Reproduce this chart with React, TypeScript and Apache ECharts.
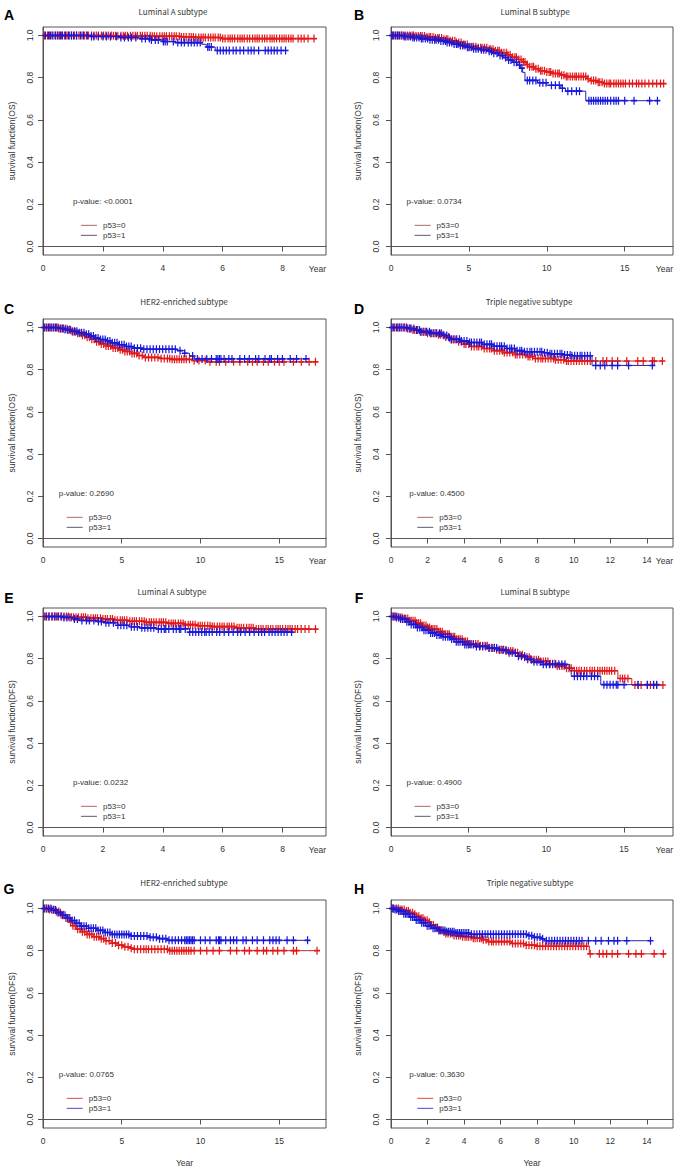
import React, { useEffect, useRef } from "react";
import * as echarts from "echarts";

type Step = [number, number];

// ---------- texts ----------
const PANEL_LETTERS = ["A", "B", "C", "D", "E", "F", "G", "H"];
const PANEL_TITLES = [
  "Luminal A subtype", "Luminal B subtype", "HER2-enriched subtype", "Triple negative subtype",
  "Luminal A subtype", "Luminal B subtype", "HER2-enriched subtype", "Triple negative subtype",
];
const Y_AXIS_NAMES = [
  "survival function(OS)", "survival function(OS)", "survival function(OS)", "survival function(OS)",
  "survival function(DFS)", "survival function(DFS)", "survival function(DFS)", "survival function(DFS)",
];
const P_VALUES = ["<0.0001", "0.0734", "0.2690", "0.4500", "0.0232", "0.4900", "0.0765", "0.3630"];
const GROUPS = ["p53=0", "p53=1"];
const X_NAME = "Year";

// ---------- ticks ----------
const Y_TICKS = [0, 0.2, 0.4, 0.6, 0.8, 1.0];
const X_TICKS = [
  [0, 2, 4, 6, 8], [0, 5, 10, 15], [0, 5, 10, 15], [0, 2, 4, 6, 8, 10, 12, 14],
  [0, 2, 4, 6, 8], [0, 5, 10, 15], [0, 5, 10, 15], [0, 2, 4, 6, 8, 10, 12, 14],
];
const X_MAX = [9.45, 18.1, 17.97, 15.43, 9.45, 18.15, 17.97, 15.43];

// ---------- Kaplan-Meier steps [time, survival] ----------
const A_P53_0_STEPS: Step[] = [[0, 1], [2.3, 0.998], [3.6, 0.996], [4.6, 0.993], [5.1, 0.99], [6.0, 0.985]];
const A_P53_1_STEPS: Step[] = [[0, 1], [1.6, 0.995], [2.6, 0.99], [3.2, 0.985], [3.6, 0.979], [4.0, 0.971], [4.4, 0.966], [5.3, 0.958], [5.45, 0.945], [5.75, 0.929]];
const B_P53_0_STEPS: Step[] = [[0, 1], [1.5, 0.997], [2.2, 0.993], [2.8, 0.988], [3.3, 0.982], [3.8, 0.975], [4.2, 0.967], [4.6, 0.957], [5.0, 0.947], [5.6, 0.942], [6.2, 0.935], [6.7, 0.928], [7.1, 0.918], [7.5, 0.908], [7.8, 0.897], [8.1, 0.886], [8.4, 0.874], [8.7, 0.862], [8.9, 0.852], [9.2, 0.842], [9.5, 0.833], [9.9, 0.827], [10.4, 0.82], [10.9, 0.812], [11.2, 0.805], [12.6, 0.795], [12.8, 0.786], [13.3, 0.778], [13.7, 0.772]];
const B_P53_1_STEPS: Step[] = [[0, 1], [0.8, 0.995], [1.3, 0.99], [1.9, 0.985], [2.5, 0.98], [3.1, 0.974], [3.6, 0.967], [4.0, 0.96], [4.4, 0.952], [4.8, 0.944], [5.2, 0.937], [5.7, 0.932], [6.2, 0.925], [6.5, 0.916], [6.9, 0.905], [7.2, 0.895], [7.5, 0.884], [7.8, 0.873], [8.1, 0.86], [8.3, 0.845], [8.45, 0.825], [8.6, 0.787], [9.4, 0.776], [10.0, 0.764], [10.9, 0.75], [11.2, 0.736], [12.5, 0.691]];
const C_P53_0_STEPS: Step[] = [[0, 1], [1.0, 0.995], [1.5, 0.988], [1.8, 0.98], [2.1, 0.972], [2.4, 0.963], [2.7, 0.954], [3.0, 0.944], [3.3, 0.932], [3.6, 0.922], [4.0, 0.912], [4.4, 0.903], [4.8, 0.894], [5.2, 0.886], [5.6, 0.877], [6.0, 0.867], [6.4, 0.858], [7.5, 0.853], [8.2, 0.849], [9.5, 0.843], [10.5, 0.837]];
const C_P53_1_STEPS: Step[] = [[0, 1], [1.0, 0.995], [1.4, 0.99], [1.8, 0.982], [2.3, 0.975], [2.7, 0.968], [3.0, 0.96], [3.3, 0.95], [3.6, 0.943], [4.0, 0.936], [4.4, 0.927], [4.8, 0.918], [5.2, 0.91], [5.7, 0.902], [6.3, 0.897], [8.5, 0.89], [9.0, 0.878], [9.3, 0.865], [9.6, 0.851]];
const D_P53_0_STEPS: Step[] = [[0, 1], [0.9, 0.995], [1.2, 0.988], [1.6, 0.98], [2.0, 0.973], [2.5, 0.965], [2.9, 0.955], [3.2, 0.943], [3.6, 0.932], [4.0, 0.921], [4.3, 0.91], [5.0, 0.9], [5.6, 0.89], [6.2, 0.881], [6.8, 0.872], [7.4, 0.862], [7.9, 0.853], [9.0, 0.847], [9.5, 0.841]];
const D_P53_1_STEPS: Step[] = [[0, 1], [1.0, 0.995], [1.3, 0.988], [1.6, 0.98], [2.2, 0.972], [2.8, 0.962], [3.1, 0.951], [3.3, 0.944], [3.8, 0.936], [4.3, 0.929], [5.0, 0.92], [5.6, 0.911], [6.3, 0.9], [6.8, 0.89], [7.3, 0.885], [8.3, 0.88], [8.7, 0.875], [9.4, 0.87], [9.9, 0.866], [11.0, 0.82]];
const E_P53_0_STEPS: Step[] = [[0, 1], [0.9, 0.996], [1.5, 0.992], [2.0, 0.988], [2.4, 0.982], [2.9, 0.977], [3.4, 0.972], [4.2, 0.967], [4.7, 0.961], [5.1, 0.956], [5.6, 0.952], [6.4, 0.946], [7.1, 0.94]];
const E_P53_1_STEPS: Step[] = [[0, 1], [0.7, 0.995], [1.0, 0.988], [1.3, 0.981], [1.8, 0.976], [2.1, 0.97], [2.5, 0.958], [2.9, 0.951], [3.2, 0.946], [3.8, 0.941], [4.9, 0.926]];
const F_P53_0_STEPS: Step[] = [[0, 1], [0.4, 0.995], [0.8, 0.99], [1.2, 0.98], [1.6, 0.968], [2.0, 0.957], [2.3, 0.948], [2.6, 0.94], [3.0, 0.928], [3.4, 0.916], [3.8, 0.904], [4.2, 0.892], [4.6, 0.881], [5.0, 0.87], [5.7, 0.861], [6.3, 0.852], [6.8, 0.844], [7.3, 0.836], [7.9, 0.828], [8.3, 0.818], [8.6, 0.807], [9.0, 0.795], [9.6, 0.787], [10.2, 0.776], [10.7, 0.765], [11.2, 0.755], [11.7, 0.743], [14.6, 0.706], [15.5, 0.675]];
const F_P53_1_STEPS: Step[] = [[0, 1], [0.3, 0.995], [0.6, 0.988], [1.0, 0.975], [1.3, 0.962], [1.7, 0.948], [2.1, 0.935], [2.5, 0.922], [2.9, 0.912], [3.3, 0.904], [3.8, 0.893], [4.2, 0.88], [4.7, 0.867], [5.4, 0.858], [6.2, 0.85], [7.0, 0.841], [7.6, 0.828], [8.2, 0.812], [8.7, 0.797], [9.2, 0.785], [9.8, 0.773], [11.5, 0.743], [11.6, 0.717], [13.5, 0.677]];
const G_P53_0_STEPS: Step[] = [[0, 1], [0.4, 0.995], [0.8, 0.985], [1.1, 0.97], [1.4, 0.955], [1.7, 0.935], [1.9, 0.918], [2.1, 0.902], [2.4, 0.89], [2.8, 0.877], [3.2, 0.866], [3.6, 0.857], [4.0, 0.847], [4.4, 0.836], [4.8, 0.826], [5.2, 0.818], [5.5, 0.812], [5.8, 0.807], [8.0, 0.8]];
const G_P53_1_STEPS: Step[] = [[0, 1], [0.6, 0.993], [0.9, 0.98], [1.2, 0.968], [1.5, 0.955], [1.8, 0.943], [2.1, 0.93], [2.4, 0.916], [2.9, 0.906], [3.4, 0.896], [3.9, 0.886], [4.4, 0.877], [5.6, 0.87], [6.8, 0.863], [7.4, 0.857], [7.9, 0.849]];
const H_P53_0_STEPS: Step[] = [[0, 1], [0.5, 0.995], [0.8, 0.988], [1.0, 0.98], [1.2, 0.972], [1.4, 0.963], [1.6, 0.953], [1.8, 0.944], [2.0, 0.935], [2.2, 0.922], [2.4, 0.91], [2.6, 0.898], [2.8, 0.888], [3.0, 0.881], [3.4, 0.872], [3.9, 0.866], [4.5, 0.859], [5.0, 0.852], [5.3, 0.843], [6.6, 0.834], [7.4, 0.826], [8.0, 0.821], [10.85, 0.785]];
const H_P53_1_STEPS: Step[] = [[0, 1], [0.2, 0.995], [0.4, 0.988], [0.7, 0.975], [1.0, 0.96], [1.3, 0.945], [1.6, 0.932], [1.9, 0.918], [2.2, 0.906], [2.6, 0.896], [3.0, 0.89], [3.5, 0.884], [4.3, 0.878], [7.5, 0.871], [7.8, 0.863], [8.2, 0.856], [8.4, 0.847]];

// ---------- censoring times ----------
const A_P53_0_CENSOR = [0.05, 0.15, 0.22, 0.3, 0.4, 0.48, 0.55, 0.62, 0.72, 0.8, 0.88, 0.95, 1.05, 1.12, 1.2, 1.3, 1.38, 1.45, 1.52, 1.62, 1.7, 1.78, 1.85, 1.95, 2.02, 2.1, 2.18, 2.28, 2.35, 2.42, 2.5, 2.6, 2.68, 2.75, 2.82, 2.92, 3.0, 3.08, 3.15, 3.25, 3.32, 3.4, 3.48, 3.58, 3.65, 3.72, 3.8, 3.9, 3.98, 4.05, 4.12, 4.22, 4.3, 4.38, 4.45, 4.55, 4.62, 4.7, 4.78, 4.88, 4.95, 5.02, 5.1, 5.2, 5.28, 5.35, 5.42, 5.52, 5.6, 5.68, 5.75, 5.85, 5.92, 6.0, 6.08, 6.18, 6.25, 6.32, 6.4, 6.5, 6.58, 6.65, 6.72, 6.82, 6.9, 7.0, 7.08, 7.15, 7.22, 7.32, 7.4, 7.48, 7.58, 7.65, 7.72, 7.8, 7.9, 7.98, 8.05, 8.12, 8.2, 8.28, 8.35, 8.52, 8.62, 8.72, 8.85, 9.05];
const A_P53_1_CENSOR = [0.08, 0.18, 0.25, 0.33, 0.42, 0.5, 0.58, 0.65, 0.75, 0.85, 0.95, 1.02, 1.12, 1.25, 1.35, 1.48, 1.62, 1.7, 1.85, 2.0, 2.12, 2.25, 2.45, 2.6, 2.72, 2.85, 2.95, 3.1, 3.3, 3.42, 3.55, 3.62, 3.75, 3.85, 4.02, 4.08, 4.15, 4.35, 4.5, 4.62, 4.72, 4.85, 4.95, 5.05, 5.15, 5.25, 5.5, 5.55, 5.62, 5.82, 5.92, 6.02, 6.12, 6.22, 6.35, 6.45, 6.58, 6.7, 6.85, 6.95, 7.05, 7.2, 7.42, 7.52, 7.62, 7.72, 7.82, 7.95, 8.1];
const B_P53_0_CENSOR = [0.1, 0.25, 0.4, 0.5, 0.65, 0.8, 0.9, 1.05, 1.2, 1.35, 1.45, 1.6, 1.75, 1.9, 2.0, 2.15, 2.3, 2.45, 2.55, 2.7, 2.85, 3.0, 3.1, 3.25, 3.4, 3.55, 3.65, 3.8, 3.95, 4.1, 4.2, 4.35, 4.5, 4.65, 4.75, 4.9, 5.05, 5.2, 5.3, 5.45, 5.6, 5.75, 5.85, 6.0, 6.15, 6.3, 6.4, 6.55, 6.7, 6.85, 6.95, 7.1, 7.25, 7.4, 7.5, 7.65, 7.8, 7.95, 8.05, 8.2, 8.35, 8.5, 8.6, 8.75, 8.9, 9.05, 9.15, 9.3, 9.45, 9.6, 9.7, 9.85, 10.0, 10.15, 10.25, 10.4, 10.55, 10.7, 10.8, 10.95, 11.1, 11.25, 11.35, 11.5, 11.65, 11.8, 11.9, 12.05, 12.2, 12.35, 12.5, 12.65, 12.85, 13.0, 13.15, 13.3, 13.4, 13.55, 13.7, 13.85, 14.0, 14.1, 14.3, 14.45, 14.6, 14.75, 14.9, 15.05, 15.3, 15.5, 15.75, 15.9, 16.1, 16.3, 16.55, 16.8, 17.05, 17.3, 17.5];
const B_P53_1_CENSOR = [0.05, 0.15, 0.3, 0.42, 0.55, 0.7, 0.85, 0.95, 1.1, 1.25, 1.4, 1.5, 1.65, 1.8, 1.95, 2.05, 2.2, 2.35, 2.5, 2.65, 2.8, 2.9, 3.05, 3.2, 3.35, 3.5, 3.6, 3.75, 3.9, 4.05, 4.2, 4.3, 4.45, 4.6, 4.75, 4.9, 5.0, 5.15, 5.3, 5.45, 5.6, 5.8, 5.95, 6.1, 6.3, 6.45, 6.6, 6.8, 7.0, 7.15, 7.35, 7.55, 7.7, 7.9, 8.05, 8.25, 8.4, 8.75, 8.9, 9.1, 9.3, 9.55, 9.75, 9.95, 10.3, 10.55, 10.8, 11.0, 11.35, 11.6, 11.9, 12.1, 12.7, 12.85, 13.0, 13.15, 13.3, 13.45, 13.6, 13.75, 13.9, 14.1, 14.3, 14.45, 14.6, 15.0, 15.6, 16.6, 17.1];
const C_P53_0_CENSOR = [0.1, 0.25, 0.4, 0.55, 0.7, 0.85, 1.0, 1.15, 1.3, 1.45, 1.6, 1.75, 1.9, 2.05, 2.2, 2.35, 2.5, 2.65, 2.8, 2.95, 3.1, 3.25, 3.4, 3.55, 3.7, 3.85, 4.0, 4.15, 4.3, 4.45, 4.6, 4.75, 4.9, 5.05, 5.2, 5.35, 5.5, 5.65, 5.8, 5.95, 6.1, 6.3, 6.5, 6.7, 6.9, 7.1, 7.3, 7.5, 7.7, 7.9, 8.05, 8.2, 8.35, 8.5, 8.65, 8.8, 8.95, 9.1, 9.3, 9.6, 9.9, 10.3, 10.6, 11.0, 11.2, 11.6, 12.1, 12.5, 13.0, 13.3, 13.6, 14.0, 14.3, 14.7, 15.0, 15.3, 15.9, 16.4, 16.9, 17.3];
const C_P53_1_CENSOR = [0.05, 0.2, 0.35, 0.5, 0.65, 0.8, 0.95, 1.1, 1.25, 1.4, 1.55, 1.7, 1.85, 2.0, 2.15, 2.3, 2.45, 2.6, 2.75, 2.9, 3.05, 3.2, 3.35, 3.5, 3.65, 3.8, 3.95, 4.1, 4.25, 4.4, 4.55, 4.7, 4.85, 5.0, 5.15, 5.3, 5.45, 5.6, 5.8, 6.0, 6.2, 6.4, 6.6, 6.8, 7.0, 7.2, 7.4, 7.6, 7.8, 8.0, 8.2, 8.4, 8.7, 9.0, 9.5, 9.8, 10.1, 10.4, 10.7, 11.0, 11.1, 11.2, 11.3, 11.5, 11.8, 12.0, 12.5, 12.8, 13.1, 13.5, 13.7, 14.1, 14.4, 14.5, 14.9, 15.2, 15.7, 16.1, 16.7];
const D_P53_0_CENSOR = [0.05, 0.2, 0.35, 0.45, 0.6, 0.75, 0.9, 1.05, 1.2, 1.3, 1.45, 1.6, 1.75, 1.9, 2.0, 2.15, 2.3, 2.45, 2.6, 2.7, 2.85, 3.0, 3.15, 3.3, 3.4, 3.55, 3.7, 3.85, 4.0, 4.1, 4.25, 4.4, 4.55, 4.7, 4.8, 4.95, 5.1, 5.25, 5.4, 5.5, 5.65, 5.8, 5.95, 6.1, 6.2, 6.35, 6.5, 6.65, 6.8, 6.9, 7.05, 7.2, 7.35, 7.5, 7.6, 7.75, 7.9, 8.05, 8.2, 8.3, 8.45, 8.6, 8.75, 8.9, 9.0, 9.15, 9.3, 9.45, 9.6, 9.7, 9.85, 10.0, 10.15, 10.3, 10.45, 10.6, 10.75, 10.9, 11.2, 11.6, 11.8, 12.1, 12.4, 12.9, 13.5, 13.8, 14.3, 14.4, 14.85];
const D_P53_1_CENSOR = [0.05, 0.15, 0.3, 0.45, 0.55, 0.7, 0.85, 1.0, 1.1, 1.25, 1.4, 1.55, 1.65, 1.8, 1.95, 2.1, 2.2, 2.35, 2.5, 2.65, 2.75, 2.9, 3.05, 3.2, 3.3, 3.45, 3.6, 3.75, 3.85, 4.0, 4.15, 4.3, 4.4, 4.55, 4.7, 4.85, 4.95, 5.1, 5.25, 5.4, 5.5, 5.65, 5.8, 5.95, 6.05, 6.2, 6.35, 6.5, 6.6, 6.75, 6.9, 7.05, 7.15, 7.3, 7.45, 7.6, 7.7, 7.85, 8.0, 8.15, 8.25, 8.4, 8.55, 8.7, 8.8, 8.95, 9.1, 9.25, 9.35, 9.5, 9.65, 9.8, 9.9, 10.05, 10.2, 10.35, 10.45, 10.6, 10.75, 10.9, 11.2, 11.45, 11.7, 12.1, 12.4, 13.0, 14.3];
const E_P53_0_CENSOR = [0.05, 0.12, 0.2, 0.3, 0.38, 0.45, 0.52, 0.62, 0.7, 0.78, 0.85, 0.95, 1.02, 1.1, 1.18, 1.28, 1.35, 1.42, 1.5, 1.6, 1.68, 1.75, 1.82, 1.92, 2.0, 2.08, 2.15, 2.25, 2.32, 2.4, 2.48, 2.58, 2.65, 2.72, 2.8, 2.9, 2.98, 3.05, 3.12, 3.22, 3.3, 3.38, 3.45, 3.55, 3.62, 3.7, 3.78, 3.88, 3.95, 4.02, 4.1, 4.2, 4.28, 4.35, 4.42, 4.52, 4.6, 4.68, 4.75, 4.85, 4.92, 5.0, 5.08, 5.18, 5.25, 5.32, 5.4, 5.5, 5.58, 5.65, 5.72, 5.82, 5.9, 5.98, 6.05, 6.15, 6.22, 6.3, 6.38, 6.48, 6.55, 6.62, 6.7, 6.8, 6.88, 6.95, 7.02, 7.12, 7.2, 7.28, 7.35, 7.45, 7.52, 7.6, 7.68, 7.78, 7.85, 7.92, 8.0, 8.1, 8.18, 8.25, 8.32, 8.42, 8.5, 8.62, 8.75, 8.88, 9.1];
const E_P53_1_CENSOR = [0.1, 0.2, 0.3, 0.4, 0.5, 0.6, 0.7, 0.8, 0.9, 1.05, 1.15, 1.3, 1.45, 1.55, 1.7, 1.85, 1.95, 2.1, 2.2, 2.35, 2.5, 2.6, 2.7, 2.8, 2.95, 3.05, 3.15, 3.3, 3.4, 3.5, 3.6, 3.7, 3.85, 3.95, 4.05, 4.1, 4.2, 4.35, 4.45, 4.55, 4.6, 4.75, 4.9, 5.0, 5.1, 5.2, 5.3, 5.4, 5.45, 5.55, 5.65, 5.8, 5.9, 6.05, 6.2, 6.35, 6.5, 6.6, 6.75, 6.9, 7.05, 7.2, 7.3, 7.4, 7.55, 7.65, 7.75, 7.85, 7.95, 8.05, 8.15, 8.3];
const F_P53_0_CENSOR = [0.05, 0.15, 0.28, 0.38, 0.5, 0.62, 0.72, 0.85, 0.95, 1.08, 1.2, 1.3, 1.42, 1.55, 1.65, 1.78, 1.9, 2.0, 2.12, 2.25, 2.35, 2.48, 2.6, 2.7, 2.82, 2.95, 3.05, 3.18, 3.3, 3.4, 3.52, 3.65, 3.75, 3.88, 4.0, 4.1, 4.22, 4.35, 4.45, 4.58, 4.7, 4.8, 4.92, 5.05, 5.15, 5.3, 5.45, 5.6, 5.75, 5.9, 6.05, 6.2, 6.35, 6.5, 6.65, 6.8, 6.95, 7.1, 7.25, 7.4, 7.55, 7.7, 7.85, 8.0, 8.15, 8.3, 8.45, 8.6, 8.75, 8.9, 9.05, 9.2, 9.35, 9.5, 9.65, 9.8, 9.95, 10.1, 10.25, 10.4, 10.55, 10.7, 10.85, 11.0, 11.15, 11.3, 11.45, 11.6, 11.8, 11.95, 12.1, 12.25, 12.45, 12.6, 12.8, 12.95, 13.1, 13.3, 13.45, 13.6, 13.75, 13.9, 14.05, 14.2, 14.4, 14.75, 14.9, 15.05, 15.25, 15.7, 15.9, 16.1, 16.5, 16.7, 16.9, 17.1, 17.5];
const F_P53_1_CENSOR = [0.05, 0.2, 0.35, 0.5, 0.62, 0.75, 0.9, 1.02, 1.15, 1.3, 1.45, 1.58, 1.7, 1.85, 2.0, 2.12, 2.25, 2.4, 2.55, 2.68, 2.8, 2.95, 3.1, 3.22, 3.35, 3.5, 3.65, 3.78, 3.9, 4.05, 4.2, 4.32, 4.45, 4.6, 4.75, 4.88, 5.0, 5.15, 5.3, 5.5, 5.7, 5.9, 6.1, 6.3, 6.5, 6.65, 6.8, 7.0, 7.2, 7.4, 7.6, 7.8, 8.0, 8.2, 8.4, 8.6, 8.8, 9.0, 9.2, 9.4, 9.6, 9.8, 10.0, 10.2, 10.4, 10.6, 10.8, 11.0, 11.2, 11.8, 12.0, 12.2, 12.4, 12.6, 12.9, 13.1, 13.3, 13.7, 13.9, 14.1, 14.3, 14.5, 14.6, 15.0, 15.9, 16.5, 16.9, 17.1];
const G_P53_0_CENSOR = [0.1, 0.25, 0.4, 0.55, 0.7, 0.85, 1.0, 1.15, 1.3, 1.45, 1.6, 1.75, 1.9, 2.05, 2.2, 2.35, 2.5, 2.65, 2.8, 2.95, 3.1, 3.25, 3.4, 3.55, 3.7, 3.85, 4.0, 4.2, 4.4, 4.6, 4.8, 5.0, 5.2, 5.4, 5.6, 5.8, 6.0, 6.2, 6.4, 6.55, 6.7, 6.9, 7.1, 7.3, 7.5, 7.7, 7.9, 8.05, 8.2, 8.35, 8.5, 8.65, 8.8, 8.95, 9.1, 9.25, 9.4, 9.6, 10.0, 10.4, 10.8, 11.2, 11.9, 12.3, 12.8, 13.1, 13.6, 14.0, 14.2, 14.6, 14.9, 15.3, 15.9, 16.1, 17.4];
const G_P53_1_CENSOR = [0.05, 0.2, 0.35, 0.5, 0.65, 0.8, 0.95, 1.1, 1.25, 1.4, 1.55, 1.7, 1.85, 2.0, 2.15, 2.3, 2.45, 2.6, 2.75, 2.9, 3.05, 3.2, 3.35, 3.5, 3.65, 3.8, 3.95, 4.1, 4.25, 4.4, 4.55, 4.7, 4.85, 5.0, 5.15, 5.3, 5.45, 5.6, 5.8, 6.0, 6.2, 6.4, 6.6, 6.8, 7.0, 7.2, 7.4, 7.6, 7.8, 8.0, 8.2, 8.4, 8.6, 8.8, 9.0, 9.1, 9.2, 9.3, 9.4, 9.5, 9.6, 10.0, 10.3, 10.6, 11.0, 11.15, 11.2, 11.3, 11.6, 11.9, 12.1, 12.3, 12.7, 12.9, 13.3, 13.6, 14.0, 14.4, 14.6, 14.8, 15.0, 15.5, 15.9, 16.8];
const H_P53_0_CENSOR = [0.05, 0.15, 0.28, 0.4, 0.5, 0.6, 0.72, 0.85, 0.95, 1.05, 1.18, 1.3, 1.4, 1.52, 1.65, 1.75, 1.85, 1.98, 2.1, 2.2, 2.32, 2.45, 2.55, 2.65, 2.78, 2.9, 3.0, 3.12, 3.25, 3.35, 3.45, 3.58, 3.7, 3.8, 3.92, 4.05, 4.15, 4.25, 4.38, 4.5, 4.6, 4.72, 4.85, 4.95, 5.05, 5.2, 5.35, 5.5, 5.6, 5.75, 5.9, 6.05, 6.2, 6.35, 6.5, 6.65, 6.8, 6.95, 7.1, 7.25, 7.4, 7.55, 7.7, 7.85, 8.0, 8.15, 8.3, 8.45, 8.6, 8.75, 8.9, 9.05, 9.2, 9.35, 9.5, 9.65, 9.8, 9.95, 10.1, 10.25, 10.4, 10.55, 10.7, 10.9, 11.4, 11.6, 11.8, 12.1, 12.4, 13.0, 13.4, 13.7, 14.4, 14.9];
const H_P53_1_CENSOR = [0.05, 0.12, 0.22, 0.32, 0.42, 0.5, 0.6, 0.7, 0.8, 0.88, 0.98, 1.08, 1.18, 1.28, 1.38, 1.48, 1.58, 1.68, 1.78, 1.88, 1.98, 2.08, 2.18, 2.3, 2.4, 2.52, 2.62, 2.72, 2.85, 2.95, 3.05, 3.15, 3.25, 3.35, 3.45, 3.55, 3.65, 3.75, 3.85, 3.95, 4.05, 4.15, 4.25, 4.4, 4.55, 4.7, 4.85, 5.0, 5.15, 5.3, 5.45, 5.6, 5.75, 5.9, 6.05, 6.2, 6.35, 6.5, 6.65, 6.8, 6.95, 7.1, 7.25, 7.4, 7.55, 7.7, 7.85, 8.0, 8.15, 8.3, 8.5, 8.65, 8.8, 8.95, 9.1, 9.25, 9.4, 9.55, 9.7, 9.85, 10.0, 10.15, 10.3, 10.45, 10.8, 11.2, 11.5, 11.9, 12.2, 12.4, 12.9, 14.2];

const STEPS_BY_GROUP: Step[][][] = [
  [A_P53_0_STEPS, B_P53_0_STEPS, C_P53_0_STEPS, D_P53_0_STEPS, E_P53_0_STEPS, F_P53_0_STEPS, G_P53_0_STEPS, H_P53_0_STEPS],
  [A_P53_1_STEPS, B_P53_1_STEPS, C_P53_1_STEPS, D_P53_1_STEPS, E_P53_1_STEPS, F_P53_1_STEPS, G_P53_1_STEPS, H_P53_1_STEPS],
];
const CENSOR_BY_GROUP: number[][][] = [
  [A_P53_0_CENSOR, B_P53_0_CENSOR, C_P53_0_CENSOR, D_P53_0_CENSOR, E_P53_0_CENSOR, F_P53_0_CENSOR, G_P53_0_CENSOR, H_P53_0_CENSOR],
  [A_P53_1_CENSOR, B_P53_1_CENSOR, C_P53_1_CENSOR, D_P53_1_CENSOR, E_P53_1_CENSOR, F_P53_1_CENSOR, G_P53_1_CENSOR, H_P53_1_CENSOR],
];

// ---------- layout / style ----------
const COL_LEFT = [43, 391];
const COL_WIDTH = [283, 282];
const ROW_TOP = [27, 319, 608, 900];
const PLOT_H = 228;
const TITLE_X = [173, 535, 184, 529, 172, 535, 184, 530];
const TITLE_Y = [11, 301, 591, 882];
const LETTER_X = [9, 359];
const LETTER_Y = [14.5, 308.5, 597.5, 888.5];
const Y_LABEL_OFFSET = [12.6, 15.3];
const Y_NAME_GAP = [26.5, 29];

const LINE_COLORS = ["#c02828", "#28289a"];
const MARK_COLORS = ["#e31818", "#1818da"];
const LEGEND_COLORS_MUTED = ["#b06868", "#5c5c70"];
const LEGEND_COLORS_BRIGHT = ["#e04848", "#4848d4"];
const AXIS_COLOR = "#555";
const TEXT_COLOR = "#333";
const SANS = '"Liberation Sans", Arial, sans-serif';
const TITLE_FONT = '"Noto Sans CJK KR", "Noto Sans", sans-serif';
const PLUS = "path://M5,0L5,12M0,6L10,6";

function survAt(steps: Step[], t: number): number {
  let s = steps[0][1];
  for (const [st, sv] of steps) {
    if (st <= t) s = sv;
    else break;
  }
  return s;
}

export default function App() {
  const ref = useRef<HTMLDivElement>(null);

  useEffect(() => {
    if (!ref.current) return;
    const chart = echarts.init(ref.current, undefined, { renderer: "svg" });

    const grids: any[] = [];
    const xAxes: any[] = [];
    const yAxes: any[] = [];
    const series: any[] = [];

    for (let i = 0; i < 8; i++) {
      const col = i % 2;
      const row = Math.floor(i / 2);
      const bottomRow = row === 3;
      grids.push({
        left: COL_LEFT[col],
        top: ROW_TOP[row],
        width: COL_WIDTH[col],
        height: PLOT_H,
        show: true,
        borderColor: AXIS_COLOR,
        borderWidth: 1,
        backgroundColor: "transparent",
        containLabel: false,
        outerBoundsMode: "none",
      });
      xAxes.push({
        type: "value",
        gridIndex: i,
        min: 0,
        max: X_MAX[i],
        name: bottomRow ? X_NAME : "",
        nameLocation: "middle",
        nameGap: 30,
        nameTextStyle: { fontSize: 8.5, color: TEXT_COLOR, fontFamily: SANS },
        axisLine: { show: true, lineStyle: { color: AXIS_COLOR, width: 1 } },
        axisTick: { show: true, length: 5, customValues: X_TICKS[i], lineStyle: { color: AXIS_COLOR } },
        axisLabel: {
          customValues: X_TICKS[i],
          margin: 8,
          fontSize: 8.5,
          color: TEXT_COLOR,
          fontFamily: SANS,
          formatter: (v: number) => String(v),
        },
        splitLine: { show: false },
      });
      yAxes.push({
        type: "value",
        gridIndex: i,
        min: -0.04,
        max: 1.04,
        name: Y_AXIS_NAMES[i],
        nameLocation: "middle",
        nameGap: Y_NAME_GAP[col],
        nameTextStyle: { fontSize: 8.5, color: TEXT_COLOR, fontFamily: SANS },
        axisLine: { show: true, lineStyle: { color: AXIS_COLOR, width: 1 } },
        axisTick: { show: true, length: 5, customValues: Y_TICKS, lineStyle: { color: AXIS_COLOR } },
        axisLabel: { show: false },
        splitLine: { show: false },
      });

      for (let g = 0; g < 2; g++) {
        const steps = STEPS_BY_GROUP[g][i];
        const censor = CENSOR_BY_GROUP[g][i];
        const last = steps[steps.length - 1];
        const endT = Math.max(last[0], censor[censor.length - 1]);
        series.push({
          type: "line",
          name: GROUPS[g],
          xAxisIndex: i,
          yAxisIndex: i,
          step: "end",
          symbol: "none",
          showSymbol: false,
          silent: true,
          lineStyle: { color: LINE_COLORS[g], width: 1 },
          itemStyle: { color: LINE_COLORS[g] },
          data: [...steps.map((s) => [s[0], s[1]]), [endT, last[1]]],
          z: 2 + g * 2,
        });
        series.push({
          type: "scatter",
          name: GROUPS[g],
          xAxisIndex: i,
          yAxisIndex: i,
          symbol: PLUS,
          symbolSize: [6, 8],
          silent: true,
          itemStyle: { color: MARK_COLORS[g], borderColor: MARK_COLORS[g], borderWidth: 1.4, opacity: 1 },
          data: censor.map((t) => [t, survAt(steps, t)]),
          z: 3 + g * 2,
        });
      }
    }

    chart.setOption({
      animation: false,
      backgroundColor: "#fff",
      grid: grids,
      xAxis: xAxes,
      yAxis: yAxes,
      series,
    });

    const graphic: any[] = [];
    for (let i = 0; i < 8; i++) {
      const col = i % 2;
      const row = Math.floor(i / 2);
      const gridLeft = COL_LEFT[col];
      const gridRight = COL_LEFT[col] + COL_WIDTH[col];
      const gridBottom = ROW_TOP[row] + PLOT_H;

      graphic.push({
        type: "text",
        x: LETTER_X[col],
        y: LETTER_Y[row],
        silent: true,
        style: { text: PANEL_LETTERS[i], fontSize: 14, fontWeight: "bold", fontFamily: SANS, fill: "#000", align: "center", verticalAlign: "middle" },
      });
      graphic.push({
        type: "text",
        x: TITLE_X[i],
        y: TITLE_Y[row],
        silent: true,
        style: { text: PANEL_TITLES[i], fontSize: 8, fontFamily: TITLE_FONT, fill: TEXT_COLOR, align: "center", verticalAlign: "middle" },
      });

      // rotated y tick labels (R style, reading bottom to top)
      for (const v of Y_TICKS) {
        const pt = chart.convertToPixel({ gridIndex: i } as any, [0, v]) as number[];
        graphic.push({
          type: "text",
          x: gridLeft - Y_LABEL_OFFSET[col],
          y: pt[1],
          rotation: Math.PI / 2,
          silent: true,
          style: { text: v.toFixed(1), fontSize: 8.5, fontFamily: SANS, fill: TEXT_COLOR, align: "center", verticalAlign: "middle" },
        });
      }

      // "Year" at the right end of the tick-label row (rows 1-3)
      if (row < 3) {
        graphic.push({
          type: "text",
          x: gridRight,
          y: gridBottom + 13.5,
          silent: true,
          style: { text: X_NAME, fontSize: 8.5, fontFamily: SANS, fill: TEXT_COLOR, align: "right", verticalAlign: "middle" },
        });
      }

      const p = chart.convertToPixel({ gridIndex: i } as any, [1, 0.2]) as number[];
      const px = p[0];
      const py = p[1];
      graphic.push({
        type: "text",
        x: px,
        y: py - 2.5,
        silent: true,
        style: { text: "p-value: " + P_VALUES[i], fontSize: 8, fontFamily: SANS, fill: TEXT_COLOR, align: "left", verticalAlign: "middle" },
      });
      const legendColors = row === 3 ? LEGEND_COLORS_BRIGHT : LEGEND_COLORS_MUTED;
      for (let g = 0; g < 2; g++) {
        const ly = py + 21 + g * 10;
        graphic.push({
          type: "line",
          silent: true,
          shape: { x1: px + 8, y1: ly, x2: px + 24, y2: ly },
          style: { stroke: legendColors[g], lineWidth: 1 },
        });
        graphic.push({
          type: "text",
          x: px + 30,
          y: ly,
          silent: true,
          style: { text: GROUPS[g], fontSize: 8, fontFamily: SANS, fill: TEXT_COLOR, align: "left", verticalAlign: "middle" },
        });
      }
    }
    chart.setOption({ graphic });

    return () => chart.dispose();
  }, []);

  return (
    <div
      ref={ref}
      style={{ position: "absolute", left: 0, top: 0, width: 684, height: 1174, background: "#fff" }}
    />
  );
}
